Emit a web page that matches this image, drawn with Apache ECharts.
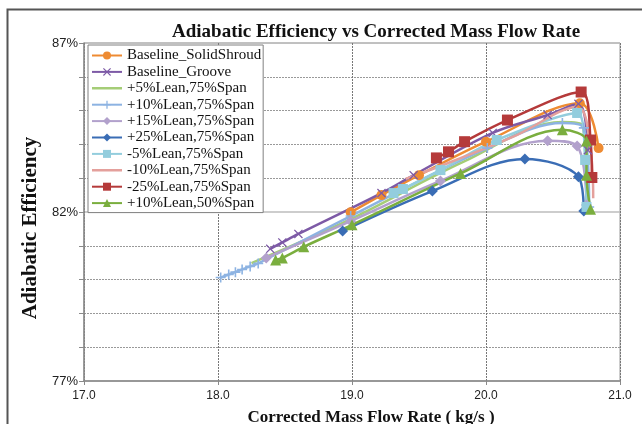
<!DOCTYPE html>
<html>
<head>
<meta charset="utf-8">
<script src="https://cdn.jsdelivr.net/npm/echarts@6.0.0/dist/echarts.min.js"></script>
<style>
html,body{margin:0;padding:0;background:#fff;}
#chart{width:642px;height:424px;}
</style>
</head>
<body>
<div id="chart"></div>
<script>
// ---- Data ----
var seriesNames = ['Baseline_SolidShroud', 'Baseline_Groove', '+5%Lean,75%Span', '+10%Lean,75%Span',
  '+15%Lean,75%Span', '+25%Lean,75%Span', '-5%Lean,75%Span', '-10%Lean,75%Span', '-25%Lean,75%Span', '+10%Lean,50%Span'];

var solidShroudX = [18.99, 19.22, 19.50, 20.00, 20.70, 20.84];
var solidShroudY = [81.99, 82.50, 83.09, 84.08, 85.22, 83.89];

var grooveX = [18.39, 18.48, 18.60, 19.22, 19.46, 20.05, 20.46, 20.69, 20.76];
var grooveY = [80.91, 81.10, 81.35, 82.56, 83.09, 84.34, 84.87, 85.20, 83.83];

var lean5X = [18.25, 18.99, 19.83, 20.57, 20.72, 20.75];
var lean5Y = [80.49, 81.79, 83.48, 84.66, 84.57, 82.21];

var lean10X = [18.02, 18.08, 18.13, 18.18, 18.24, 18.30, 18.99, 20.01, 20.57, 20.73, 20.77];
var lean10Y = [80.06, 80.15, 80.22, 80.30, 80.39, 80.48, 81.88, 83.89, 84.63, 84.49, 82.15];

var lean15X = [18.36, 18.99, 19.66, 20.46, 20.68, 20.75];
var lean15Y = [80.64, 81.73, 82.92, 84.11, 83.95, 82.21];

var lean25X = [18.93, 19.60, 20.29, 20.69, 20.73];
var lean25Y = [81.44, 82.62, 83.57, 83.04, 82.03];

var neg5X = [19.31, 19.38, 19.66, 20.08, 20.68, 20.74, 20.75];
var neg5Y = [82.56, 82.68, 83.24, 84.13, 84.93, 83.54, 82.15];

var neg10X = [19.40, 19.66, 20.20, 20.68, 20.78, 20.80];
var neg10Y = [82.98, 83.36, 84.22, 85.11, 83.83, 82.41];

var neg25X = [19.63, 19.72, 19.84, 20.16, 20.71, 20.78, 20.79];
var neg25Y = [83.60, 83.78, 84.08, 84.72, 85.55, 84.13, 83.02];

var lean10s50X = [18.43, 18.48, 18.64, 19.00, 19.81, 20.57, 20.75, 20.75, 20.78];
var lean10s50Y = [80.58, 80.64, 80.97, 81.62, 83.14, 84.43, 84.10, 83.09, 82.08];

var xTicks = [17, 18, 19, 20, 21];
var yTicks = [77, 82, 87];

// ---- Chart ----
function zip(xs, ys) { return xs.map(function (x, i) { return [x, ys[i]]; }); }

var crossPath = 'path://M0,1L1,0L5,4L9,0L10,1L6,5L10,9L9,10L5,6L1,10L0,9L4,5Z';
var plusPath = 'path://M4.2,0H5.8V4.2H10V5.8H5.8V10H4.2V5.8H0V4.2H4.2Z';
var lineOnlyIcon = 'path://M0,0L0.01,0L0,0.01Z M0,3.8L30,3.8L30,6.2L0,6.2Z M0,10L0.01,10L0,9.99Z';

var styles = [
  { color: '#EE8B32', symbol: 'circle', size: 10 },
  { color: '#7D5AA6', symbol: crossPath, size: 9 },
  { color: '#A5CD77', symbol: 'none', size: 0 },
  { color: '#8DB3E2', symbol: plusPath, size: 10 },
  { color: '#B2A1CC', symbol: 'diamond', size: 11 },
  { color: '#3A6DB5', symbol: 'diamond', size: 11 },
  { color: '#93CDDD', symbol: 'rect', size: 10 },
  { color: '#E4A09C', symbol: 'none', size: 0 },
  { color: '#B53A3A', symbol: 'rect', size: 11 },
  { color: '#7AAE3E', symbol: 'triangle', size: 11 }
];
var dataSets = [
  zip(solidShroudX, solidShroudY), zip(grooveX, grooveY), zip(lean5X, lean5Y), zip(lean10X, lean10Y),
  zip(lean15X, lean15Y), zip(lean25X, lean25Y), zip(neg5X, neg5Y), zip(neg10X, neg10Y),
  zip(neg25X, neg25Y), zip(lean10s50X, lean10s50Y)
];

var series = seriesNames.map(function (name, i) {
  var s = styles[i];
  return {
    name: name,
    type: 'line',
    data: dataSets[i],
    smooth: 0.35,
    symbol: s.symbol,
    symbolSize: s.size,
    showSymbol: s.symbol !== 'none',
    lineStyle: { color: s.color, width: 2.5 },
    itemStyle: { color: s.color, borderWidth: 0 },
    emphasis: { disabled: true },
    animation: false
  };
});

var legendData = seriesNames.map(function (name, i) {
  if (styles[i].symbol === 'none') {
    return { name: name, icon: lineOnlyIcon, itemStyle: { color: styles[i].color } };
  }
  return { name: name };
});

var chart = echarts.init(document.getElementById('chart'), null, { renderer: 'canvas' });
chart.setOption({
  backgroundColor: '#ffffff',
  animation: false,
  title: {
    text: 'Adiabatic Efficiency vs Corrected Mass Flow Rate',
    left: 167, top: 18,
    textStyle: { fontFamily: 'Liberation Serif', fontWeight: 'bold', fontSize: 19, color: '#111' }
  },
  graphic: [{
    type: 'rect', left: 5, top: 7, z: -1,
    shape: { width: 700, height: 500 },
    style: { fill: 'none', stroke: '#555', lineWidth: 2 }
  }],
  grid: {
    left: 84, right: 22, top: 43, bottom: 43,
    outerBoundsMode: 'none', containLabel: false,
    show: true, borderColor: '#9a9a9a', borderWidth: 1, backgroundColor: 'transparent'
  },
  legend: {
    data: legendData,
    orient: 'vertical',
    left: 88, top: 45,
    itemWidth: 30, itemHeight: 10, itemGap: 1.4,
    padding: [3, 2, 2, 3],
    backgroundColor: '#fff',
    borderColor: '#808080', borderWidth: 1,
    textStyle: { fontFamily: 'Liberation Serif', fontSize: 15, color: '#111', lineHeight: 15 }
  },
  xAxis: {
    type: 'value', min: xTicks[0], max: xTicks[xTicks.length - 1], interval: 1,
    name: 'Corrected Mass Flow Rate ( kg/s )',
    nameLocation: 'middle', nameGap: 28,
    nameTextStyle: { fontFamily: 'Liberation Serif', fontWeight: 'bold', fontSize: 17, color: '#111', padding: [0, 0, 0, 38] },
    axisLine: { lineStyle: { color: '#8a8a8a', width: 1.5 } },
    axisTick: { show: true, inside: false, length: 4, lineStyle: { color: '#8a8a8a' } },
    axisLabel: { fontFamily: 'Liberation Sans', fontSize: 12, color: '#222', margin: 9, formatter: function (v) { return v.toFixed(1); } },
    splitLine: { show: true, lineStyle: { color: '#777', type: [2, 1], width: 1 } }
  },
  yAxis: {
    type: 'value', min: yTicks[0], max: yTicks[yTicks.length - 1], interval: 5,
    name: 'Adiabatic Efficiency',
    nameLocation: 'middle', nameGap: 43, nameRotate: 90,
    nameTextStyle: { fontFamily: 'Liberation Serif', fontWeight: 'bold', fontSize: 21, color: '#111', padding: [0, 32, 0, 0] },
    axisLine: { show: true, lineStyle: { color: '#8a8a8a', width: 1.5 } },
    axisTick: { show: true, inside: false, length: 5, lineStyle: { color: '#8a8a8a' } },
    minorTick: { show: true, splitNumber: 5, length: 5, lineStyle: { color: '#8a8a8a' } },
    axisLabel: { fontFamily: 'Liberation Sans', fontSize: 13, color: '#222', margin: 6, formatter: function (v) { return v + '%'; } },
    splitLine: { show: true, lineStyle: { color: '#bdbdbd', width: 1.5 } },
    minorSplitLine: { show: true, lineStyle: { color: '#999', type: [2, 1], width: 1 } }
  },
  series: series
});
</script>
</body>
</html>
